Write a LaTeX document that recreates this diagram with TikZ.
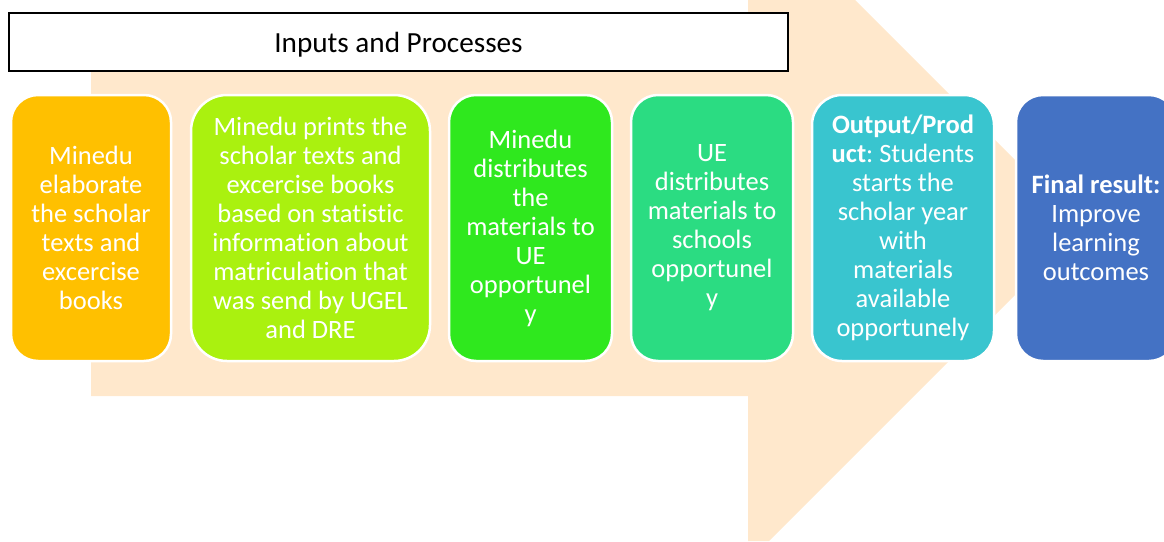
\documentclass[tikz,border=0pt]{standalone}
\usepackage{fontspec}
\setmainfont{Carlito}[Ligatures=NoCommon]
\frenchspacing
\definecolor{peach}{RGB}{255,232,204}
\definecolor{cA}{RGB}{255,192,0}
\definecolor{cB}{RGB}{170,241,15}
\definecolor{cC}{RGB}{47,232,30}
\definecolor{cD}{RGB}{43,220,130}
\definecolor{cE}{RGB}{57,197,207}
\definecolor{cF}{RGB}{68,114,196}
\begin{document}
\begin{tikzpicture}[x=1pt,y=-1pt,
  stepbox/.style={draw=white, line width=2.5pt, text=white, align=center,
    inner sep=0pt, minimum height=266pt,
    font=\fontsize{26.5}{29}\selectfont},
  titlebox/.style={draw=black, line width=1.8pt, fill=white, inner sep=0pt,
    minimum width=779pt, minimum height=58pt, text depth=0pt,
    font=\fontsize{29.2}{34}\selectfont}
]
\useasboundingbox (0,0) rectangle (1164,541);
% background arrow
\fill[peach] (91,60) -- (748,60) -- (748,0) -- (855,0) -- (1082.5,227.5)
  -- (769,541) -- (748,541) -- (748,396) -- (91,396) -- cycle;
% title
\node[titlebox] (title) at (398.5,42) {Inputs and Processes};
% steps
\node[stepbox, fill=cA, minimum width=160pt, rounded corners=27pt] (b1) at (91,228)
  {Minedu\\elaborate\\the scholar\\texts and\\excercise\\books};
\node[stepbox, fill=cB, minimum width=239pt, rounded corners=36pt] (b2) at (310.5,228)
  {Minedu prints the\\scholar texts and\\excercise books\\based on statistic\\information about\\matriculation that\\was send by UGEL\\and DRE};
\node[stepbox, fill=cC, minimum width=163pt, rounded corners=27pt] (b3) at (530.5,228)
  {Minedu\\distributes\\the\\materials to\\UE\\opportunel\\y};
\node[stepbox, fill=cD, minimum width=162pt, rounded corners=27pt] (b4) at (712,228)
  {UE\\distributes\\materials to\\schools\\opportunel\\y};
\node[stepbox, fill=cE, minimum width=182pt, rounded corners=30pt] (b5) at (903,228)
  {\textbf{Output/Prod}\\\textbf{uct}: Students\\starts the\\scholar year\\with\\materials\\available\\opportunely};
\node[stepbox, fill=cF, minimum width=160pt, rounded corners=27pt] (b6) at (1096,228)
  {\textbf{Final result:}\\Improve\\learning\\outcomes};
\end{tikzpicture}
\end{document}
